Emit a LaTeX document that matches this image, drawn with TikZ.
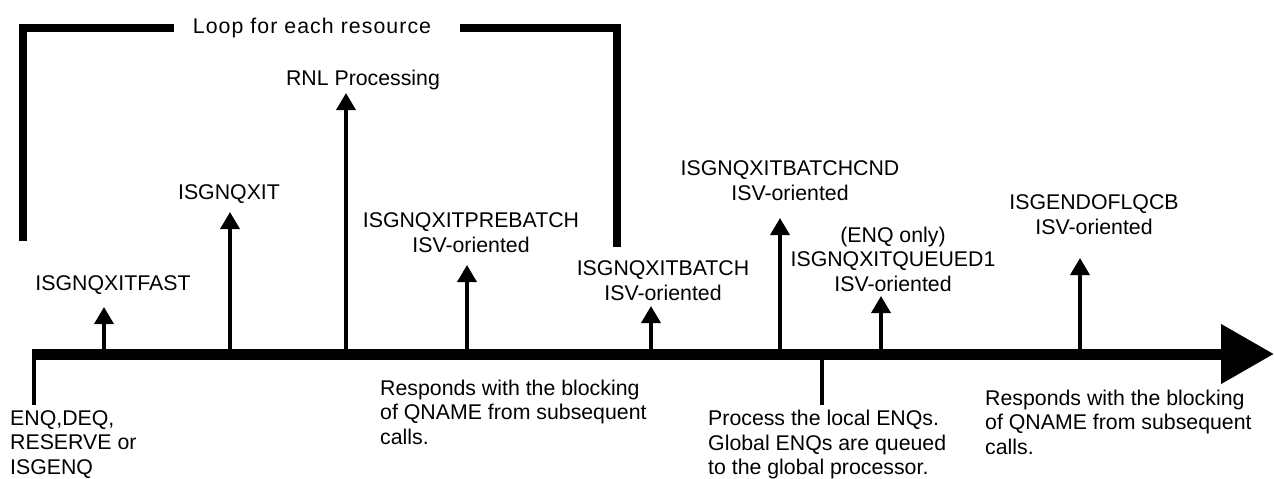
\documentclass[tikz,border=0pt]{standalone}
\usepackage{fontspec}
\setmainfont{Liberation Sans}
\usetikzlibrary{arrows.meta}
\begin{document}
\begin{tikzpicture}[x=1pt,y=-1pt,
  lbl/.style={inner sep=0pt, font=\fontsize{21.3}{24.5}\selectfont, align=center, anchor=north},
  lbll/.style={lbl, align=left, anchor=north west},
  axisline/.style={line width=11pt, -{Triangle[length=53pt,width=57pt]}},
  exitarrow/.style={line width=3.5pt, -{Triangle[length=17pt,width=19pt]}},
  tickline/.style={line width=3.5pt},
  bracketline/.style={line width=8pt, line join=miter}]
\useasboundingbox (0,0) rectangle (1274,479);

% loop bracket
\coordinate (bl0) at (23,241);
\coordinate (bl1) at (23,28);
\coordinate (bl2) at (174,28);
\coordinate (br0) at (460,28);
\coordinate (br1) at (616.5,28);
\coordinate (br2) at (616.5,247);
\draw[bracketline] (bl0) -- (bl1) -- (bl2);
\draw[bracketline] (br0) -- (br1) -- (br2);
\node[lbl] (loop) at (312,17.5) {\addfontfeature{LetterSpace=5}Loop for each resource};

% labels
\node[lbl] (rnl) at (363,69.5) {RNL Processing};
\node[lbl] (nqx) at (229,184.5) {ISGNQXIT};
\node[lbl] (fast) at (113,275.5) {ISGNQXITFAST};
\node[lbl] (preb) at (471,212.5) {ISGNQXITPREBATCH\\ISV-oriented};
\node[lbl] (batch) at (663,260.5) {ISGNQXITBATCH\\ISV-oriented};
\node[lbl] (bcnd) at (790,160.5) {ISGNQXITBATCHCND\\ISV-oriented};
\node[lbl] (queued) at (893,226.5) {(ENQ only)\\ISGNQXITQUEUED1\\ISV-oriented};
\node[lbl] (endof) at (1094,194.5) {ISGENDOFLQCB\\ISV-oriented};
\node[lbll] (start) at (10,410) {ENQ,DEQ,\\RESERVE or\\ISGENQ};
\node[lbll] (resp1) at (380,379.5) {Responds with the blocking\\of QNAME from subsequent\\calls.};
\node[lbll] (proc) at (708,410) {Process the local ENQs.\\Global ENQs are queued\\to the global processor.};
\node[lbll] (resp2) at (985,389.5) {Responds with the blocking\\of QNAME from subsequent\\calls.};

% time axis
\coordinate (ax0) at (32,354);
\coordinate (ax1) at (1274,354);
\draw[axisline] (ax0) -- (ax1);

% start and down tick
\coordinate (s0) at (34,352);
\coordinate (s1) at (34,405);
\draw[tickline] (s0) -- (s1);
\coordinate (d0) at (822,354);
\coordinate (d1) at (822,405);
\draw[tickline] (d0) -- (d1);

% exit arrows
\coordinate (a1) at (104,354);  \coordinate (t1) at (104,307);
\coordinate (a2) at (230,354);  \coordinate (t2) at (230,212);
\coordinate (a3) at (346,354);  \coordinate (t3) at (346,93);
\coordinate (a4) at (467,354);  \coordinate (t4) at (467,265);
\coordinate (a5) at (651,354);  \coordinate (t5) at (651,306);
\coordinate (a6) at (780,354);  \coordinate (t6) at (780,218);
\coordinate (a7) at (881,354);  \coordinate (t7) at (881,296);
\coordinate (a8) at (1080,354); \coordinate (t8) at (1080,258);
\foreach \i in {1,...,8} {\draw[exitarrow] (a\i) -- (t\i);}
\end{tikzpicture}
\end{document}
